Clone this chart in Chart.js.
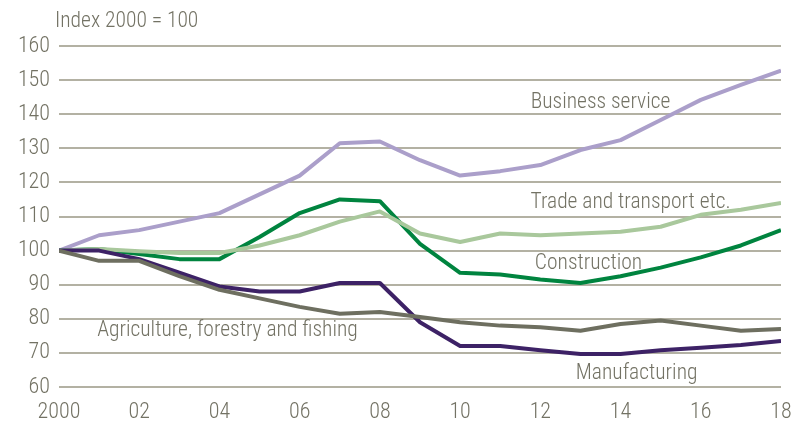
<!DOCTYPE html>
<html>
<head>
<meta charset="utf-8">
<script src="https://cdn.jsdelivr.net/npm/chart.js@4.4.1/dist/chart.umd.min.js"></script>
<style>
  html, body { margin: 0; padding: 0; background: #fff; }
  #wrap { width: 792px; height: 429px; position: relative; }
</style>
</head>
<body>
<div id="wrap"><canvas id="chart"></canvas></div>
<script>
// données
const years = [2000, 2001, 2002, 2003, 2004, 2005, 2006, 2007, 2008, 2009,
               2010, 2011, 2012, 2013, 2014, 2015, 2016, 2017, 2018];

const businessService = [100, 104.5, 106, 108.5, 111, 116.5, 122, 131.5, 132, 126.5,
                         122, 123.3, 125.1, 129.5, 132.4, 138.3, 144.2, 148.6, 152.8];
const tradeTransport = [100, 100.5, 99.8, 99.3, 99.3, 101.5, 104.5, 108.5, 111.5, 105,
                        102.5, 105, 104.5, 105, 105.5, 107, 110.5, 112, 114];
const construction = [100, 100.5, 99, 97.5, 97.5, 104, 111, 115, 114.5, 102,
                      93.5, 93, 91.5, 90.5, 92.5, 95, 98, 101.5, 106];
const manufacturing = [100, 100, 97.5, 93.5, 89.5, 88, 88, 90.5, 90.5, 79,
                       72, 72, 70.8, 69.7, 69.7, 70.8, 71.5, 72.3, 73.5];
const agriculture = [100, 97, 97, 92.5, 88.5, 86, 83.5, 81.5, 82, 80.5,
                     79, 78, 77.5, 76.5, 78.5, 79.5, 78, 76.5, 77];

// étiquettes posées sur le graphique (coordonnées en données)
const seriesLabels = [
  { text: 'Business service', x: 2013.5, y: 143.3 },
  { text: 'Trade and transport etc.', x: 2014.25, y: 114.2 },
  { text: 'Construction', x: 2013.2, y: 96.2 },
  { text: 'Agriculture, forestry and fishing', x: 2004.2, y: 76.4 },
  { text: 'Manufacturing', x: 2014.4, y: 64 }
];
const unitLabel = 'Index 2000 = 100';

const textColor = '#737264';
const gridColor = '#b3b1a3';
const fontFamily = "'Liberation Sans Narrow', 'Arial Narrow', 'Roboto Condensed', 'Liberation Sans', sans-serif";

function toPoints(values) {
  return years.map((year, i) => ({ x: year, y: values[i] }));
}

function makeSeries(label, values, color) {
  return {
    label: label,
    data: toPoints(values),
    borderColor: color,
    backgroundColor: color,
    borderWidth: 4,
    pointRadius: 0,
    tension: 0,
    borderJoinStyle: 'round'
  };
}

const labelPlugin = {
  id: 'seriesLabels',
  afterDatasetsDraw(chart) {
    const ctx = chart.ctx;
    const xs = chart.scales.x;
    const ys = chart.scales.y;
    ctx.save();
    ctx.fillStyle = textColor;
    ctx.font = '300 21.5px ' + fontFamily;
    ctx.textAlign = 'center';
    ctx.textBaseline = 'middle';
    seriesLabels.forEach(l => {
      ctx.fillText(l.text, xs.getPixelForValue(l.x), ys.getPixelForValue(l.y));
    });
    ctx.textAlign = 'left';
    ctx.fillText(unitLabel, 55, 22);
    ctx.restore();
  }
};

const ctx = document.getElementById('chart').getContext('2d');
const chart = new Chart(ctx, {
  type: 'line',
  data: {
    datasets: [
      makeSeries('Agriculture, forestry and fishing', agriculture, '#6e6f60'),
      makeSeries('Manufacturing', manufacturing, '#3d2266'),
      makeSeries('Trade and transport etc.', tradeTransport, '#a9c89c'),
      makeSeries('Construction', construction, '#00843f'),
      makeSeries('Business service', businessService, '#ab9fca')
    ]
  },
  options: {
    responsive: true,
    maintainAspectRatio: false,
    animation: false,
    layout: { padding: { top: 46, right: 11, left: 0, bottom: 0 } },
    plugins: {
      legend: { display: false },
      tooltip: { enabled: false }
    },
    scales: {
      x: {
        type: 'linear',
        min: 2000,
        max: 2018,
        grid: { display: false, drawTicks: false },
        border: { display: false },
        ticks: {
          stepSize: 2,
          color: textColor,
          font: { family: fontFamily, size: 22, weight: '300' },
          padding: 12,
          maxRotation: 0,
          callback: v => v === 2000 ? '2000' : String(v % 100).padStart(2, '0')
        },
        afterFit: scale => {
          scale.height = 42;
          scale.paddingLeft = 0;
          scale.paddingRight = 0;
        }
      },
      y: {
        min: 60,
        max: 160,
        grid: { color: gridColor, lineWidth: 2, drawTicks: false },
        border: { display: false },
        ticks: {
          stepSize: 10,
          color: textColor,
          font: { family: fontFamily, size: 22, weight: '300' },
          padding: 9
        },
        afterFit: scale => { scale.width = 59; }
      }
    }
  },
  plugins: [labelPlugin]
});
</script>
</body>
</html>
